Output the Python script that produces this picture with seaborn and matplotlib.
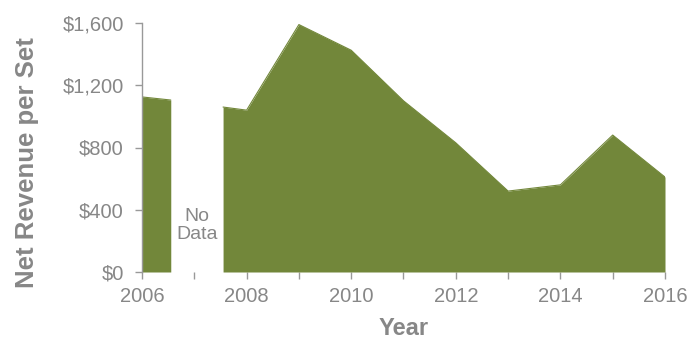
import matplotlib
matplotlib.use("Agg")
import matplotlib.pyplot as plt
import seaborn as sns
import pandas as pd

# Net revenue per set, split into two segments around the missing 2007 data
years_a = [2006.0, 2006.55]
revenue_a = [1125, 1105]
years_b = [2007.55, 2008, 2009, 2010, 2011, 2012, 2013, 2014, 2015, 2016]
revenue_b = [1060, 1040, 1590, 1425, 1100, 830, 520, 560, 880, 610]

ytick_vals = [0, 400, 800, 1200, 1600]
ytick_labels = ["$0", "$400", "$800", "$1,200", "$1,600"]
xtick_vals = [2006, 2008, 2010, 2012, 2014, 2016]

GREEN = "#72873a"
GRAY = "#878787"

sns.set_theme(style="white")
plt.rcParams["font.family"] = ["Liberation Sans", "DejaVu Sans"]

fig = plt.figure(figsize=(6.92, 3.43), dpi=100)
ax = fig.add_axes([142 / 692, 1 - 272 / 343, 523 / 692, 249 / 343])

for xs, ys in [(years_a, revenue_a), (years_b, revenue_b)]:
    df = pd.DataFrame({"Year": xs, "Revenue": ys})
    sns.lineplot(data=df, x="Year", y="Revenue", ax=ax, color=GREEN, linewidth=0.8)
    ax.fill_between(df["Year"], 0, df["Revenue"], color=GREEN, linewidth=0)

ax.set_xlim(2006, 2016)
ax.set_ylim(0, 1600)
ax.set_xticks(range(2006, 2017))
ax.set_xticklabels([str(y) if y in xtick_vals else "" for y in range(2006, 2017)])
ax.set_yticks(ytick_vals)
ax.set_yticklabels(ytick_labels)

for s in ["top", "right", "bottom"]:
    ax.spines[s].set_visible(False)
ax.spines["left"].set_color("#999999")
ax.spines["left"].set_linewidth(1.0)

ax.tick_params(axis="both", bottom=True, left=True, colors="#999999",
               labelcolor=GRAY, labelsize=14.5, direction="out", length=5, width=1)
ax.tick_params(axis="x", pad=6)
ax.tick_params(axis="y", pad=8)

ax.set_xlabel("Year", fontsize=17, fontweight="bold", color=GRAY, labelpad=8)
ax.set_ylabel("Net Revenue per Set", fontsize=18.5, fontweight="bold", color=GRAY)
ax.yaxis.set_label_coords(-0.197, 0.44)

ax.text(2007.05, 300, "No\nData", ha="center", va="center", fontsize=14,
        color=GRAY, linespacing=1.1)

fig.savefig("out.png", dpi=100)
